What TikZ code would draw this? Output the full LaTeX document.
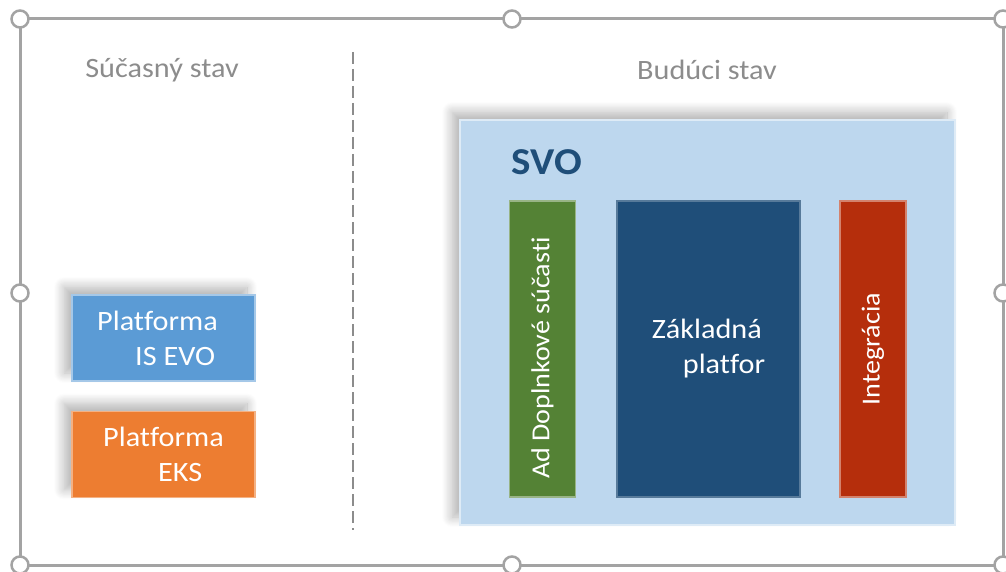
\documentclass[tikz,border=0pt]{standalone}
\usepackage{fontspec}
\setmainfont{Carlito}[FakeStretch=1.08, Ligatures=CommonOff]
\usetikzlibrary{shadows.blur}

\definecolor{framegray}{RGB}{163,163,163}
\definecolor{headgray}{RGB}{140,140,140}
\definecolor{evoblue}{RGB}{91,155,213}
\definecolor{eksorange}{RGB}{237,125,49}
\definecolor{svoblue}{RGB}{189,215,238}
\definecolor{addgreen}{RGB}{84,130,53}
\definecolor{coreblue}{RGB}{31,78,121}
\definecolor{intred}{RGB}{181,46,12}

\tikzset{
	tile/.style={inner sep=0pt, text=white, align=left, line width=1.5pt, font=\fontsize{28}{35}\selectfont},
	shade/.style={blur shadow={shadow xshift=-8pt, shadow yshift=8pt, shadow blur radius=10pt, shadow blur steps=12, shadow opacity=30}},
	bar/.style={tile, rotate=90, minimum width=296pt, minimum height=66pt, font=\fontsize{26}{31}\selectfont},
	handle/.style={circle, draw=framegray, fill=white, line width=2.5pt, minimum size=17pt, inner sep=0pt},
	heading/.style={text=headgray, font=\fontsize{28}{33}\selectfont}
}

\begin{document}
\begin{tikzpicture}[x=1pt, y=-1pt]
		\useasboundingbox (0,0) rectangle (1006,572);
		\coordinate (TL) at (20,19);
		\coordinate (BR) at (1003,565);
		\coordinate (D1) at (353,52);
		\coordinate (D2) at (353,530);
		
		\draw[framegray, line width=3pt] (TL) rectangle (BR);
		\foreach \hx/\hy [count=\i] in {20/19, 512/19, 1003/19, 20/293, 1003/293, 20/565, 512/565, 1003/565}
			\node[handle] (h\i) at (\hx,\hy) {};
		
		\node[heading] (now) at (162,70) {Súčasný stav};
		\node[heading] (next) at (707,70) {Budúci stav};
		\draw[headgray, line width=2pt, dash pattern=on 12pt off 5pt] (D1) -- (D2);
		
		\node[tile, shade, fill=evoblue, draw=evoblue!55!white, minimum width=183pt, minimum height=86pt] (evo) at (163.5,338) {Platforma\hspace*{12pt}\\\hspace*{38pt}IS EVO};
		\node[tile, shade, fill=eksorange, draw=eksorange!60!white, minimum width=183pt, minimum height=86pt] (eks) at (163.5,454.5) {Platforma\\\hspace*{55pt}EKS};
		
		\node[shade, fill=svoblue, draw=svoblue!50!white, line width=1.5pt, minimum width=495pt, minimum height=405pt] (svo) at (707.5,322.5) {};
		\node[text=coreblue, font=\fontsize{38}{44}\bfseries\selectfont] (svotitle) at (547,162) {SVO};
		\node[bar, fill=addgreen, draw=addgreen!60!white] (add) at (542.5,349) {Ad Doplnkové súčasti\hspace*{18pt}};
		\node[tile, fill=coreblue, draw=coreblue!75!white, minimum width=183pt, minimum height=296pt] (core) at (708.5,349) {Základná\\\hspace*{31pt}platfor};
		\node[bar, fill=intred, draw=intred!60!white] (int) at (873,349) {Integrácia};
\end{tikzpicture}
\end{document}
